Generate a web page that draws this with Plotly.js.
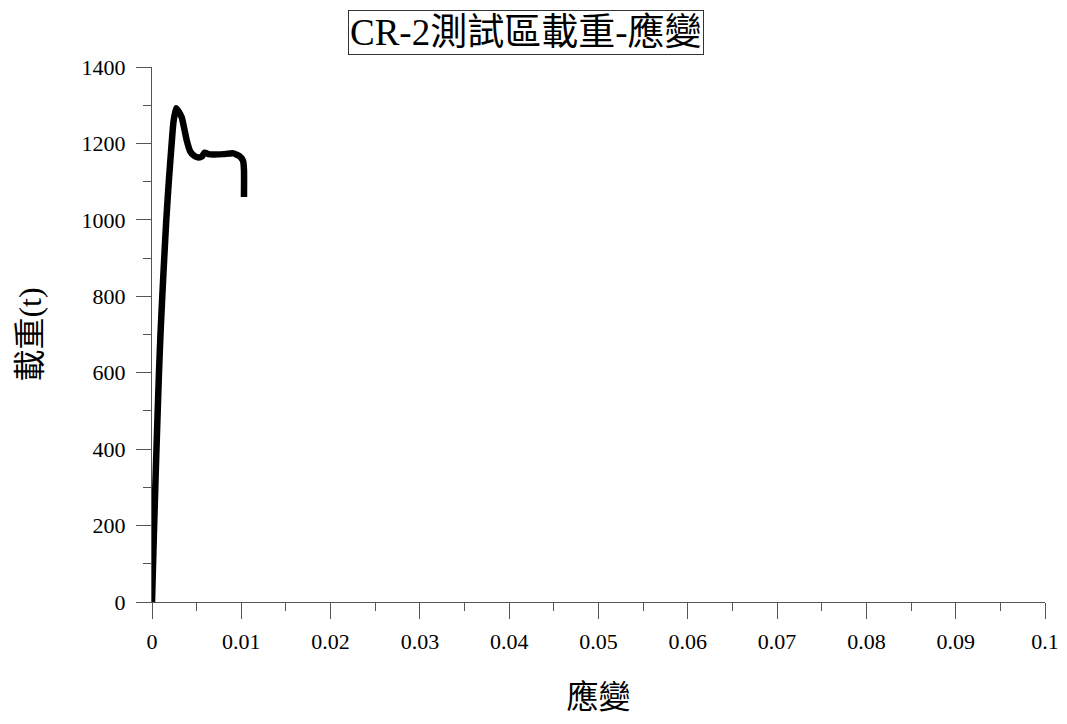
<!DOCTYPE html>
<html>
<head>
<meta charset="utf-8">
<script src="https://cdn.plot.ly/plotly-3.0.1.min.js"></script>
<style>html,body{margin:0;padding:0;background:#fff;}#chart{width:1067px;height:724px;}</style>
</head>
<body>
<div id="chart"></div>
<script>
const chartTitle = "CR-2測試區載重-應變";
const xTitle = "應變";
const yTitle = "載重(t)";
const strain = [0, 0.00024, 0.0005, 0.00078, 0.00095, 0.00115, 0.00137, 0.0016, 0.00188, 0.0022, 0.0024, 0.0027, 0.0030, 0.00333, 0.0036, 0.00388, 0.00426, 0.0047, 0.0052, 0.0056, 0.0059, 0.0063, 0.00687, 0.0080, 0.0091, 0.00985, 0.0102, 0.0103, 0.0103];
const load   = [0,   200,     400,    600,     700,     800,     900,     1000,   1100,    1200,   1255,   1292,   1283,   1268,    1240,   1209,    1180,    1168,   1163,   1166,   1176,   1172,   1171,    1172,   1174,   1166,    1154,   1130,   1060];
const xTicks = [0, 0.01, 0.02, 0.03, 0.04, 0.05, 0.06, 0.07, 0.08, 0.09, 0.1];
const yTicks = [0, 200, 400, 600, 800, 1000, 1200, 1400];

const serif = "'Liberation Serif', 'Times New Roman', 'Noto Sans CJK TC', serif";
const axisColor = '#555';

const trace = {
  x: strain, y: load, type: 'scatter', mode: 'lines',
  line: {color: '#000', width: 6.5, shape: 'spline', smoothing: 0.5},
  hoverinfo: 'x+y'
};

const layout = {
  width: 1067, height: 724,
  margin: {l: 152, r: 22, t: 67, b: 122},
  paper_bgcolor: '#fff', plot_bgcolor: '#fff',
  showlegend: false,
  font: {family: serif, color: '#000', size: 22},
  xaxis: {
    range: [0, 0.1], tickvals: xTicks, ticktext: xTicks.map(String),
    showgrid: false, zeroline: false, showline: true, linecolor: axisColor, linewidth: 1,
    ticks: 'outside', ticklen: 16, tickcolor: axisColor, tickwidth: 1, ticklabelstandoff: 4,
    minor: {ticks: 'outside', ticklen: 8, dtick: 0.005, tickcolor: axisColor, showgrid: false},
    tickfont: {family: serif, size: 22, color: '#000'},
    title: {text: xTitle, font: {family: serif, size: 32, color: '#000'}, standoff: 32}
  },
  yaxis: {
    range: [0, 1400], tickvals: yTicks, ticktext: yTicks.map(String),
    showgrid: false, zeroline: false, showline: true, linecolor: axisColor, linewidth: 1,
    ticks: 'outside', ticklen: 15, tickcolor: axisColor, tickwidth: 1, ticklabelstandoff: 6,
    minor: {ticks: 'outside', ticklen: 8, dtick: 100, tickcolor: axisColor, showgrid: false},
    tickfont: {family: serif, size: 22, color: '#000'},
    title: {text: yTitle, font: {family: serif, size: 32, color: '#000'}, standoff: 30}
  },
  annotations: [{
    text: chartTitle, xref: 'paper', yref: 'paper',
    x: (526 - 152) / 893, y: 1 + (67 - 33) / 535,
    xanchor: 'center', yanchor: 'middle', showarrow: false,
    font: {family: serif, size: 37, color: '#000'},
    bordercolor: '#333', borderwidth: 1, borderpad: 1, bgcolor: '#fff'
  }]
};

Plotly.newPlot('chart', [trace], layout, {staticPlot: true, displayModeBar: false});
</script>
</body>
</html>
